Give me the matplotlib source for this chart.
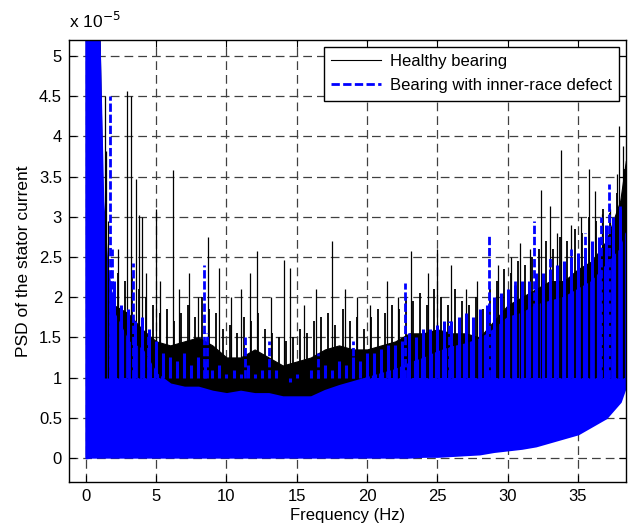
import matplotlib

matplotlib.use("Agg")
import matplotlib.pyplot as plt
from matplotlib.lines import Line2D

plt.rcParams["font.family"] = ["Liberation Sans", "DejaVu Sans"]

# PSD values in units of 1e-5
freq = [0, 0.3, 0.6, 0.9, 1.2, 1.5, 2, 3, 4, 5, 6, 7, 8, 9, 10, 11, 12, 13, 14,
        15, 16, 17, 18, 19, 20, 21, 22, 23, 24, 25, 26, 27, 28, 29, 30, 31, 32,
        33, 34, 35, 36, 37, 38, 38.4]

healthy_top = [6, 6, 6, 6, 3.0, 2.1, 1.9, 1.8, 1.6, 1.45, 1.4, 1.45, 1.5, 1.4,
               1.25, 1.25, 1.35, 1.25, 1.15, 1.2, 1.25, 1.35, 1.4, 1.35, 1.35,
               1.4, 1.45, 1.55, 1.55, 1.6, 1.55, 1.55, 1.5, 1.7, 1.9, 2.0, 2.1,
               2.2, 2.2, 2.35, 2.45, 2.7, 3.2, 3.7]
healthy_floor = [0.02, 0.02, 0.02, 0.03, 0.03, 0.03, 0.03, 0.03, 0.03, 0.03,
                 0.03, 0.03, 0.03, 0.03, 0.03, 0.03, 0.03, 0.03, 0.03, 0.03,
                 0.03, 0.03, 0.03, 0.03, 0.03, 0.03, 0.03, 0.03, 0.03, 0.04,
                 0.05, 0.06, 0.08, 0.1, 0.12, 0.15, 0.18, 0.22, 0.28, 0.33,
                 0.42, 0.55, 0.75, 0.95]

defect_top = [6, 6, 6, 5.5, 3.2, 2.4, 1.8, 1.45, 1.35, 1.05, 0.92, 0.88, 0.88,
              0.83, 0.8, 0.83, 0.8, 0.8, 0.76, 0.76, 0.76, 0.84, 0.9, 0.95, 1.0,
              1.05, 1.1, 1.18, 1.24, 1.32, 1.38, 1.42, 1.48, 1.6, 1.75, 1.8,
              1.9, 1.95, 2.0, 2.1, 2.2, 2.4, 2.6, 2.8]
defect_floor = [0.0, 0.01, 0.01, 0.01, 0.01, 0.01, 0.01, 0.01, 0.01, 0.01,
                0.01, 0.01, 0.01, 0.01, 0.01, 0.01, 0.01, 0.01, 0.01, 0.01,
                0.01, 0.01, 0.01, 0.01, 0.01, 0.01, 0.01, 0.01, 0.02, 0.02,
                0.03, 0.04, 0.05, 0.08, 0.1, 0.12, 0.15, 0.2, 0.25, 0.3, 0.4,
                0.5, 0.7, 0.9]

# medium peaks that make the ragged top of each band (every 0.5 Hz)
healthy_jag_f = [2.25 + 0.5 * i for i in range(73)]
healthy_jag_v = [2.3, 2.2, 2.25, 2.1, 2.0, 1.9, 1.8, 1.85, 1.7, 1.8,
                 1.9, 1.75, 2.0, 1.85, 1.8, 1.6, 1.65, 1.55, 1.75, 1.7,
                 1.8, 1.6, 1.55, 1.5, 1.45, 1.5, 1.6, 1.55, 1.7, 1.75,
                 1.8, 1.65, 1.85, 1.7, 1.75, 1.6, 1.75, 1.85, 1.8, 1.9,
                 1.85, 2.0, 1.95, 2.05, 1.9, 2.1, 2.0, 1.9, 2.1, 1.95,
                 1.9, 2.0, 1.85, 2.1, 2.2, 2.35, 2.3, 2.45, 2.4, 2.5,
                 2.6, 2.7, 2.6, 2.75, 2.7, 2.85, 2.8, 3.0, 2.95, 3.1,
                 3.05, 3.3, 3.6]
defect_jag_f = [2.0 + 0.5 * i for i in range(73)]
defect_jag_v = [2.2, 1.9, 1.85, 1.7, 1.75, 1.6, 1.45, 1.3, 1.25, 1.2,
                1.3, 1.15, 1.25, 1.2, 1.1, 1.15, 1.05, 1.1, 1.05, 1.15,
                1.05, 1.1, 1.0, 1.1, 1.0, 0.95, 1.05, 1.0, 1.1, 1.05,
                1.15, 1.1, 1.2, 1.15, 1.25, 1.2, 1.3, 1.3, 1.35, 1.4,
                1.4, 1.45, 1.55, 1.5, 1.6, 1.6, 1.65, 1.7, 1.7, 1.75,
                1.8, 1.75, 1.85, 1.9, 2.0, 2.05, 2.1, 2.15, 2.2, 2.2,
                2.3, 2.3, 2.35, 2.4, 2.45, 2.5, 2.55, 2.6, 2.7, 2.75,
                2.9, 3.0, 3.1]

healthy_spike_f = [1.35, 1.45, 1.6, 2.3, 2.9, 3.2, 3.6, 3.75, 4.0, 4.3, 5.0, 5.3,
                   6.2, 6.6, 7.3, 8.0, 8.7, 9.5, 10.3, 11.0, 11.7, 12.2, 13.2,
                   14.1, 14.5, 15.5, 16.4, 17.5, 18.4, 19.3, 20.2, 21.4, 22.2,
                   23.1, 24.3, 25.0, 26.0, 27.0, 27.8, 29.3, 30.2, 30.9, 31.6,
                   32.4, 33.0, 33.5, 33.8, 34.5, 35.2, 35.8, 36.2, 36.7, 37.3,
                   37.8, 37.9, 38.2]
healthy_spike_v = [4.5, 3.82, 2.95, 2.6, 4.56, 4.5, 3.47, 3.02, 3.0, 2.3, 3.1,
                   2.2, 3.58, 2.1, 2.3, 2.0, 2.75, 2.36, 2.0, 2.1, 2.3, 2.57,
                   2.0, 2.46, 2.36, 1.9, 2.1, 2.7, 2.1, 2.0, 1.9, 2.2, 2.0, 2.57,
                   2.3, 2.6, 2.4, 2.1, 2.2, 2.4, 2.5, 2.67, 2.6, 3.33, 3.14, 2.8,
                   3.83, 2.9, 3.0, 3.6, 3.32, 3.04, 3.1, 3.53, 4.13, 3.88]

defect_spike_f = [0.85, 1.7, 1.85, 3.35, 4.4, 8.4, 8.6, 11.3, 13.0, 16.5, 19.0,
                  22.7, 25.8, 28.7, 29.5, 30.5, 31.9, 33.0, 34.5, 35.5, 36.6,
                  37.2, 38.0]
defect_spike_v = [4.9, 4.5, 2.6, 2.42, 1.55, 2.4, 1.55, 1.51, 1.45, 1.3, 1.45,
                  2.18, 1.7, 2.79, 2.0, 2.2, 2.95, 2.5, 2.6, 2.8, 3.0, 3.41,
                  3.14]

x_ticks = [0, 5, 10, 15, 20, 25, 30, 35]
y_ticks = [0, 0.5, 1, 1.5, 2, 2.5, 3, 3.5, 4, 4.5, 5]

BLUE = "#0000ff"
BASE = 1.0  # spikes start inside the filled bands

figure = plt.figure(figsize=(6.29, 5.29), dpi=100)
axis = figure.add_axes([0.1097, 0.0888, 0.8853, 0.8356])

# healthy bearing (black, drawn first)
axis.fill_between(freq, healthy_floor, healthy_top, color="black", linewidth=0.8)
axis.vlines(healthy_jag_f, BASE, healthy_jag_v, color="black", linewidth=1.3)
axis.vlines(healthy_spike_f, BASE, healthy_spike_v, color="black", linewidth=0.9)

# bearing with inner-race defect (blue, on top)
axis.fill_between(freq, defect_floor, defect_top, color=BLUE, linewidth=1.5,
                  edgecolor=BLUE)
axis.vlines(defect_jag_f, BASE, defect_jag_v, color=BLUE, linewidth=2.2)
axis.vlines(defect_spike_f, BASE, defect_spike_v, color=BLUE,
            linewidth=2, linestyles=(0, (3, 1)))

axis.set_xlim(-1.2, 38.4)
axis.set_ylim(-0.3, 5.2)
axis.set_xticks(x_ticks)
axis.set_yticks(y_ticks)
axis.set_yticklabels([f"{v:g}" for v in y_ticks])
axis.tick_params(direction="in", length=5, labelsize=12, top=True, right=True,
                 pad=5)
axis.grid(True, color="#404040", linestyle=(0, (7, 4)), linewidth=0.9)
axis.set_axisbelow(True)
for spine in axis.spines.values():
    spine.set_linewidth(1.0)

axis.set_xlabel("Frequency (Hz)", fontsize=12, labelpad=3)
axis.set_ylabel("PSD of the stator current", fontsize=12.5, labelpad=6)
axis.text(0.0, 1.02, r"x 10$^{-5}$", transform=axis.transAxes, fontsize=12.5,
          ha="left", va="bottom")

handles = [
    Line2D([], [], color="black", linewidth=0.8),
    Line2D([], [], color=BLUE, linewidth=2, linestyle=(0, (3, 1.2))),
]
legend = axis.legend(handles, ["Healthy bearing", "Bearing with inner-race defect"],
                     loc="upper right", fontsize=12, fancybox=False, framealpha=1,
                     edgecolor="black", borderaxespad=0.4, handlelength=3.0,
                     handletextpad=0.5, labelspacing=0.55, borderpad=0.45)
legend.get_frame().set_linewidth(1.0)

figure.savefig("out.png", dpi=100)
